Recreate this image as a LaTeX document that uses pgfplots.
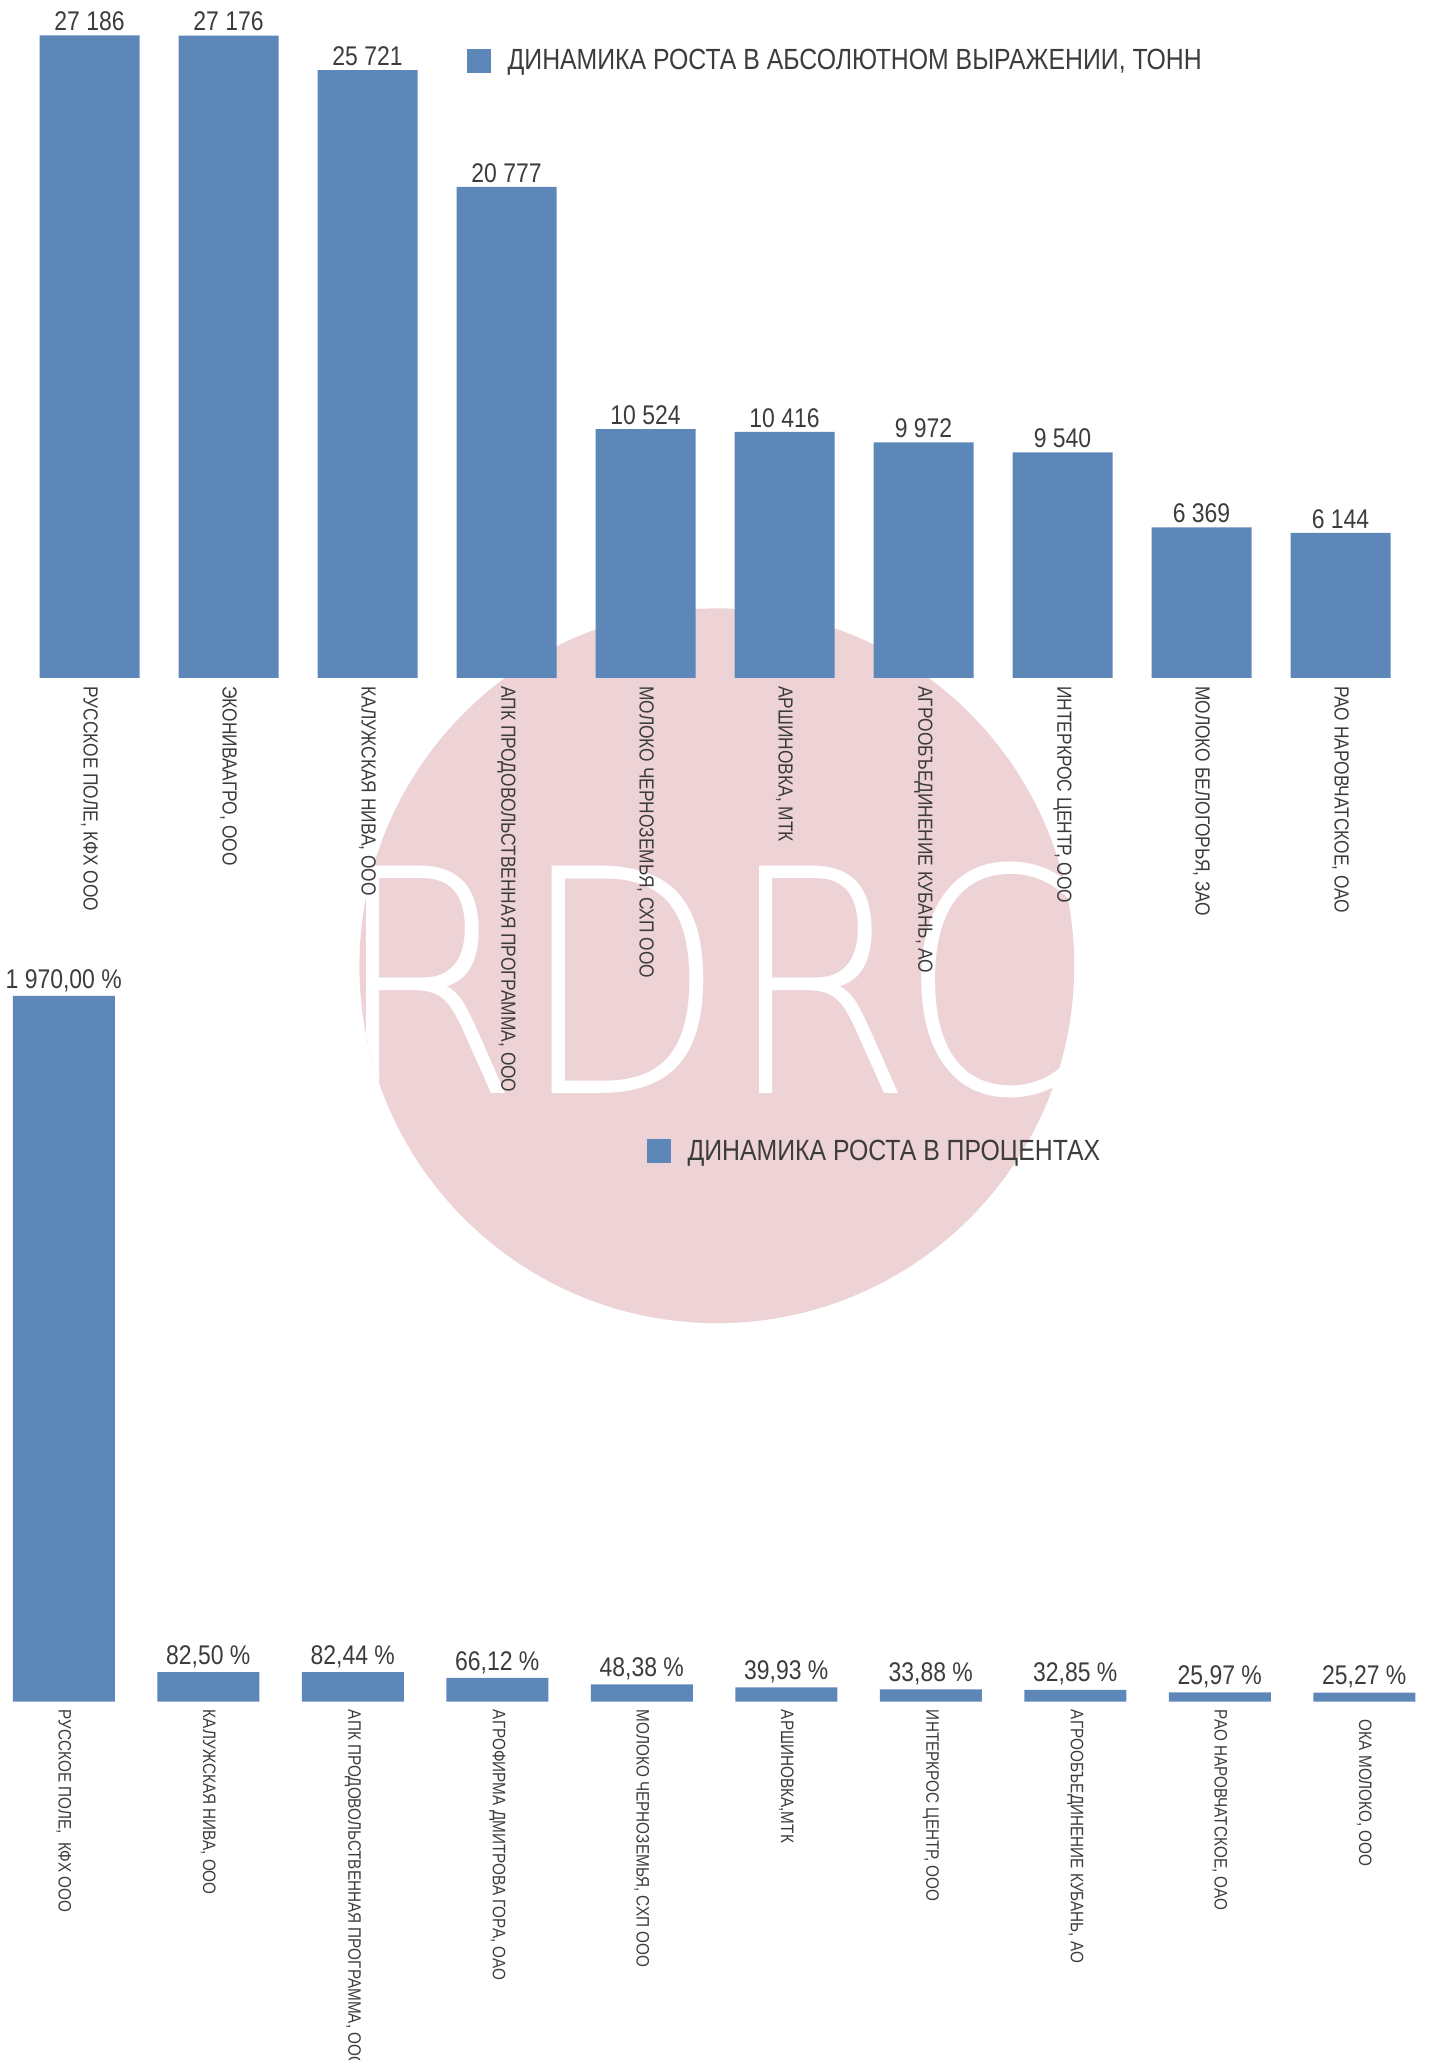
\documentclass[border=0pt]{standalone}
\usepackage{pgfplots}
\pgfplotsset{compat=1.18}
\usepackage{fontspec}
\setmainfont{Liberation Sans}[FakeStretch=0.85]
\newfontfamily\wmfont{DejaVu Sans ExtraLight}
\definecolor{barblue}{RGB}{93,135,185}
\definecolor{wmpink}{RGB}{237,211,214}
\definecolor{txt}{RGB}{60,60,60}
\begin{document}
\begin{tikzpicture}
\useasboundingbox (0pt,0pt) rectangle (715.5pt,1030pt);
\fill[wmpink] (358.4pt,547.1pt) circle[radius=178.7pt];
\begin{scope}
\clip (358.4pt,547.1pt) circle[radius=178.7pt];
\node[text=white,inner sep=0pt,font=\wmfont\fontsize{156}{156}\selectfont] at (355pt,540pt) {\scalebox{0.86}[1]{RDRC}};
\end{scope}
% ---------- top chart ----------
\begin{axis}[
  at={(10pt,691pt)}, anchor=south west,
  width=695pt, height=330.9pt, scale only axis,
  xmin=-0.5, xmax=9.5, ymin=0, ymax=28000,
  enlargelimits=false,
  hide y axis, axis x line*=bottom, x axis line style={draw=none},
  major tick length=0pt,
  xtick=data,
  xticklabels={{РУССКОЕ ПОЛЕ, КФХ ООО},{ЭКОНИВААГРО, ООО},{КАЛУЖСКАЯ НИВА, ООО},{АПК ПРОДОВОЛЬСТВЕННАЯ ПРОГРАММА, ООО},{МОЛОКО ЧЕРНОЗЕМЬЯ, СХП ООО},{АРШИНОВКА, МТК},{АГРООБЪЕДИНЕНИЕ КУБАНЬ, АО},{ИНТЕРКРОС ЦЕНТР, ООО},{МОЛОКО БЕЛОГОРЬЯ, ЗАО},{РАО НАРОВЧАТСКОЕ, ОАО}},
  xticklabel style={rotate=-90, anchor=west, font=\fontsize{10.2}{12}\selectfont, text=txt, inner sep=4pt},
  ybar, bar width=50pt,
  point meta=explicit symbolic,
  nodes near coords,
  nodes near coords style={font=\fontsize{13.5}{15}\selectfont, text=txt, anchor=south, inner sep=2pt},
  clip=false,
  legend style={draw=none, fill=none, at={(axis description cs:0.321,0.933)}, anchor=west, inner sep=0pt, font=\fontsize{14.6}{18}\selectfont, text=txt, legend cell align=left, /tikz/every odd column/.append style={column sep=6.5pt}},
  legend image code/.code={\fill[barblue] (0pt,-6pt) rectangle (12pt,6pt);},
]
\addplot[fill=barblue, draw=none] coordinates {
 (0,27186) [{27 186}]
 (1,27176) [{27 176}]
 (2,25721) [{25 721}]
 (3,20777) [{20 777}]
 (4,10524) [{10 524}]
 (5,10416) [{10 416}]
 (6,9972) [{9 972}]
 (7,9540) [{9 540}]
 (8,6369) [{6 369}]
 (9,6144) [{6 144}]
};
\addlegendentry{ДИНАМИКА РОСТА В АБСОЛЮТНОМ ВЫРАЖЕНИИ, ТОНН}
\end{axis}
% ---------- bottom chart ----------
\begin{axis}[
  at={(-4.25pt,179.2pt)}, anchor=south west,
  width=722.5pt, height=358.2pt, scale only axis,
  xmin=-0.5, xmax=9.5, ymin=0, ymax=2000,
  enlargelimits=false,
  hide y axis, axis x line*=bottom, x axis line style={draw=none},
  major tick length=0pt,
  xtick=data,
  xticklabels={{РУССКОЕ ПОЛЕ,\ \ КФХ ООО},{КАЛУЖСКАЯ НИВА, ООО},{АПК ПРОДОВОЛЬСТВЕННАЯ ПРОГРАММА, ООО},{АГРОФИРМА ДМИТРОВА ГОРА, ОАО},{МОЛОКО ЧЕРНОЗЕМЬЯ, СХП ООО},{АРШИНОВКА,МТК},{ИНТЕРКРОС ЦЕНТР, ООО},{АГРООБЪЕДИНЕНИЕ КУБАНЬ, АО},{РАО НАРОВЧАТСКОЕ, ОАО},{\hspace*{5pt}ОКА МОЛОКО, ООО}},
  xticklabel style={rotate=-90, anchor=west, font=\fontsize{9}{11}\selectfont, text=txt, inner sep=4pt},
  ybar, bar width=51pt,
  point meta=explicit symbolic,
  nodes near coords,
  nodes near coords style={font=\fontsize{13.5}{15}\selectfont, text=txt, anchor=south, inner sep=2pt},
  clip=false,
  legend style={draw=none, fill=none, at={(axis description cs:0.453,0.768)}, anchor=west, inner sep=0pt, font=\fontsize{14.6}{18}\selectfont, text=txt, legend cell align=left, /tikz/every odd column/.append style={column sep=6.5pt}},
  legend image code/.code={\fill[barblue] (0pt,-6pt) rectangle (12pt,6pt);},
]
\addplot[fill=barblue, draw=none] coordinates {
 (0,1970.00) [{1 970,00 \%}]
 (1,82.50) [{82,50 \%}]
 (2,82.44) [{82,44 \%}]
 (3,66.12) [{66,12 \%}]
 (4,48.38) [{48,38 \%}]
 (5,39.93) [{39,93 \%}]
 (6,33.88) [{33,88 \%}]
 (7,32.85) [{32,85 \%}]
 (8,25.97) [{25,97 \%}]
 (9,25.27) [{25,27 \%}]
};
\addlegendentry{ДИНАМИКА РОСТА В ПРОЦЕНТАХ}
\end{axis}
\end{tikzpicture}
\end{document}
